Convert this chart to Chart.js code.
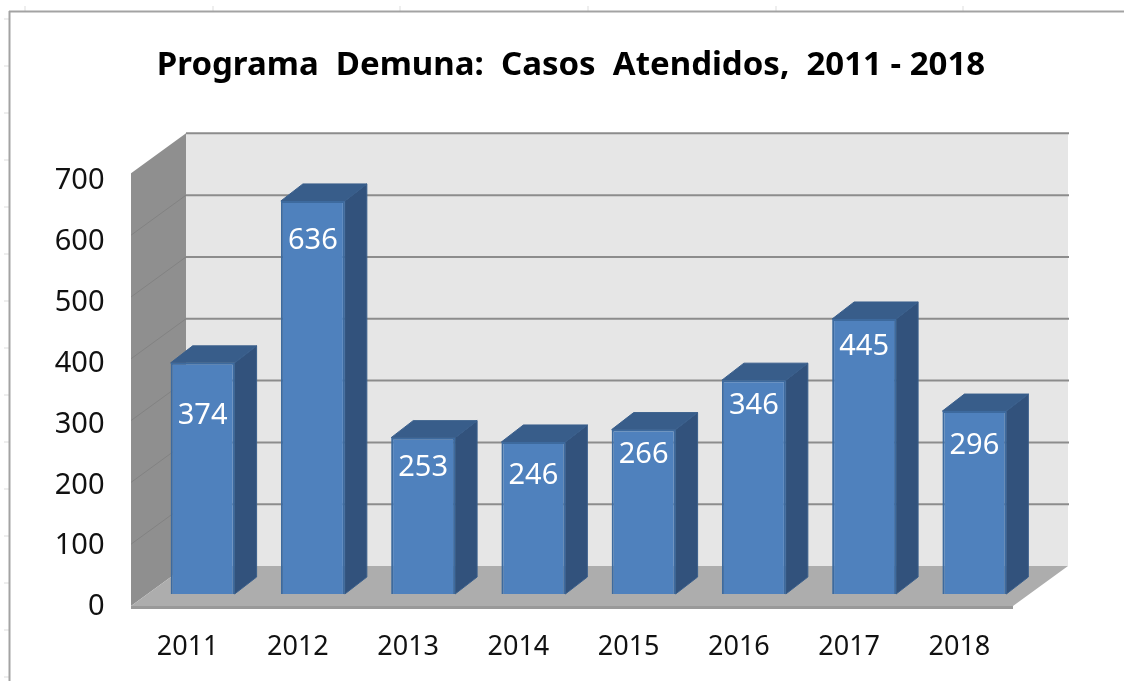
<!DOCTYPE html>
<html>
<head>
<meta charset="utf-8">
<title>Programa Demuna</title>
<style>
  body { margin: 0; background: #fff; }
  /* the original is a slightly soft screenshot */
  canvas { display: block; filter: blur(0.45px); }
</style>
</head>
<body>
<canvas id="myChart" width="1124" height="681"></canvas>
<script src="https://cdn.jsdelivr.net/npm/chart.js@4"></script>
<script>
const titleText = 'Programa  Demuna:  Casos  Atendidos,  2011 - 2018';
const years = ['2011', '2012', '2013', '2014', '2015', '2016', '2017', '2018'];
const casos = [374, 636, 253, 246, 266, 346, 445, 296];
const gridValues = [0, 100, 200, 300, 400, 500, 600, 700];

// how far below the top of each bar the label sits in the original
const labelDrop = [53, 40, 30, 34, 25, 26, 28, 35];

const fontName = '"Noto Sans", sans-serif';

function poly(ctx, pts, fill, stroke, lw) {
  ctx.beginPath();
  pts.forEach((p, i) => i ? ctx.lineTo(p[0], p[1]) : ctx.moveTo(p[0], p[1]));
  ctx.closePath();
  ctx.fillStyle = fill;
  ctx.fill();
  if (stroke) {
    ctx.strokeStyle = stroke;
    ctx.lineWidth = lw || 1;
    ctx.stroke();
  }
}

function line(ctx, x1, y1, x2, y2, color, lw) {
  ctx.beginPath();
  ctx.moveTo(x1, y1);
  ctx.lineTo(x2, y2);
  ctx.strokeStyle = color;
  ctx.lineWidth = lw;
  ctx.stroke();
}

const sheetFrame = {
  id: 'sheetFrame',
  beforeDraw(chart) {
    const ctx = chart.ctx;
    ctx.save();
    [25, 213, 400, 588, 776, 963].forEach(x => line(ctx, x, 6, x, 11, '#dddddd', 1));
    [19, 66, 113, 160, 207, 254, 301, 348, 395, 442, 489, 536, 583, 630, 677].forEach(y => line(ctx, 4, y, 9, y, '#dddddd', 1));
    line(ctx, 9, 11.5, 1124, 11.5, '#a3a3a3', 2);
    line(ctx, 9.5, 11, 9.5, 681, '#a3a3a3', 2);
    ctx.fillStyle = '#000';
    ctx.font = 'bold 33px ' + fontName;
    ctx.textAlign = 'center';
    ctx.textBaseline = 'middle';
    ctx.fillText(titleText, 571, 66);
    ctx.restore();
  }
};

const walls3d = {
  id: 'walls3d',
  beforeDatasetsDraw(chart) {
    const ctx = chart.ctx;
    const xs = chart.scales.x;
    const y = chart.scales.yBars;
    const left = xs.left;
    const right = xs.right;
    const base = y.getPixelForValue(0);
    const top = y.getPixelForValue(700);
    // front edge of the box and its back wall, relative to the plane of the bars
    const fx = -16.5, fy = 12, bx = 38.5, by = -28;

    ctx.save();
    poly(ctx, [[left + bx, top + by], [right + bx, top + by], [right + bx, base + by], [left + bx, base + by]], '#e6e6e6');
    poly(ctx, [[left + fx, top + fy], [left + bx, top + by], [left + bx, base + by], [left + fx, base + fy]], '#8f8f8f');
    gridValues.forEach(v => {
      const p = y.getPixelForValue(v);
      if (v > 0) line(ctx, left + bx, p + by, right + bx + 1, p + by, '#8c8c8c', 2);
      if (v > 0 && v < 700) line(ctx, left + fx, p + fy, left + bx, p + by, '#828282', 1);
    });
    poly(ctx, [[left + fx, base + fy], [left + bx, base + by], [right + bx, base + by], [right + fx, base + fy]], '#adadad');
    line(ctx, left + fx, base + fy + 1.5, right + fx, base + fy + 1.5, '#999999', 3);

    // side and top faces of the bars
    const dx = 22, dy = -17;
    chart.getDatasetMeta(0).data.forEach(bar => {
      const l = bar.x - bar.width / 2;
      const r = bar.x + bar.width / 2;
      poly(ctx, [[r, bar.y], [r + dx, bar.y + dy], [r + dx, bar.base + dy], [r, bar.base]], '#32527c', '#3a5f8c', 1);
      poly(ctx, [[l, bar.y], [l + dx, bar.y + dy], [r + dx, bar.y + dy], [r, bar.y]], '#385d8a', '#3a5f8c', 1);
    });
    ctx.restore();
  },
  afterDatasetsDraw(chart) {
    const ctx = chart.ctx;
    ctx.save();
    ctx.font = '29px ' + fontName;
    ctx.fillStyle = '#ffffff';
    ctx.textAlign = 'center';
    ctx.textBaseline = 'middle';
    chart.getDatasetMeta(0).data.forEach((bar, i) => {
      ctx.fillText(String(casos[i]), bar.x, bar.y + labelDrop[i]);
    });
    ctx.restore();
  }
};

const ctx = document.getElementById('myChart');
const myChart = new Chart(ctx, {
  type: 'bar',
  data: {
    labels: years,
    datasets: [{
      label: 'Casos Atendidos',
      data: casos,
      yAxisID: 'yBars',
      backgroundColor: '#4f81bd',
      borderColor: '#3d6a9e',
      borderWidth: 2,
      barPercentage: 0.58,
      categoryPercentage: 1
    }]
  },
  options: {
    responsive: false,
    animation: false,
    layout: { padding: { left: 0, right: 94.5, top: 178, bottom: 0 } },
    plugins: {
      legend: { display: false },
      title: { display: false },
      tooltip: { enabled: false }
    },
    scales: {
      x: {
        grid: { display: false },
        border: { display: false },
        afterFit: s => { s.height = 77; },
        ticks: {
          color: '#111111',
          padding: 19,
          labelOffset: -15,
          maxRotation: 0,
          font: { family: fontName, size: 27 }
        }
      },
      // labels sit on the front edge of the box
      y: {
        position: 'left',
        min: 0,
        max: 700,
        grid: { display: false },
        border: { display: false },
        afterFit: s => { s.width = 147.5; },
        ticks: {
          color: '#111111',
          padding: 35,
          labelOffset: 3,
          stepSize: 100,
          font: { family: fontName, size: 29 }
        }
      },
      // bars stand a little behind that edge
      yBars: {
        display: false,
        min: -16.18,
        max: 673.1
      }
    }
  },
  plugins: [sheetFrame, walls3d]
});
</script>
</body>
</html>
